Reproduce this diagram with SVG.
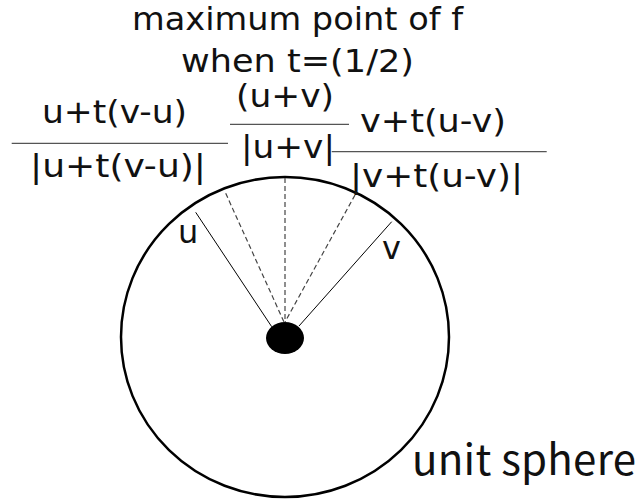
<svg xmlns="http://www.w3.org/2000/svg" width="644" height="501" viewBox="0 0 644 501">
<style>
.t{font-family:"DejaVu Sans","Noto Sans",sans-serif;font-size:32px;fill:#111}
.big{font-family:"Noto Sans CJK JP","Noto Sans",sans-serif;font-size:42px;fill:#111}
.frac{stroke:#555;stroke-width:1.3;fill:none}
.ray{stroke:#000;stroke-width:1;fill:none}
.dash{stroke:#444;stroke-width:1.2;fill:none;stroke-dasharray:5 3}
</style>
<rect width="644" height="501" fill="#fff"/>
<g id="title">
<text class="t" x="132" y="29.5" textLength="331" lengthAdjust="spacingAndGlyphs">maximum point of f</text>
<text class="t" x="181" y="72" textLength="233" lengthAdjust="spacingAndGlyphs">when t=(1/2)</text>
</g>
<g id="sphere">
<ellipse cx="285" cy="337" rx="164" ry="160" fill="none" stroke="#000" stroke-width="2.5"/>
<text class="big" x="412" y="475" textLength="224" lengthAdjust="spacing">unit sphere</text>
</g>
<g id="origin">
<ellipse cx="285" cy="338" rx="19" ry="16" fill="#000"/>
</g>
<g id="connectors">
<line class="ray" x1="195.7" y1="212.3" x2="271.7" y2="326.7"/>
<line class="ray" x1="391.7" y1="221.7" x2="299" y2="326"/>
<line class="dash" x1="225.7" y1="193.3" x2="284" y2="322"/>
<line class="dash" x1="285" y1="178" x2="285" y2="322"/>
<line class="dash" x1="355" y1="195" x2="285" y2="322"/>
</g>
<g id="label-u">
<text class="t" x="178" y="243.3">u</text>
</g>
<g id="label-v">
<text class="t" x="382" y="259">v</text>
</g>
<g id="frac-left">
<text class="t" x="42" y="122.7" textLength="145" lengthAdjust="spacingAndGlyphs">u+t(v-u)</text>
<line class="frac" x1="11.7" y1="143.3" x2="228" y2="143.3"/>
<text class="t" x="30" y="177.3" textLength="176" lengthAdjust="spacingAndGlyphs">|u+t(v-u)|</text>
</g>
<g id="frac-mid">
<text class="t" x="236" y="106.7" textLength="98" lengthAdjust="spacingAndGlyphs">(u+v)</text>
<line class="frac" x1="230" y1="124.3" x2="349" y2="124.3"/>
<text class="t" x="241" y="158.3" textLength="94" lengthAdjust="spacingAndGlyphs">|u+v|</text>
</g>
<g id="frac-right">
<text class="t" x="360" y="131.7" textLength="146" lengthAdjust="spacingAndGlyphs">v+t(u-v)</text>
<line class="frac" x1="331.7" y1="151.7" x2="546.7" y2="151.7"/>
<text class="t" x="350" y="186.7" textLength="173" lengthAdjust="spacingAndGlyphs">|v+t(u-v)|</text>
</g>
</svg>
